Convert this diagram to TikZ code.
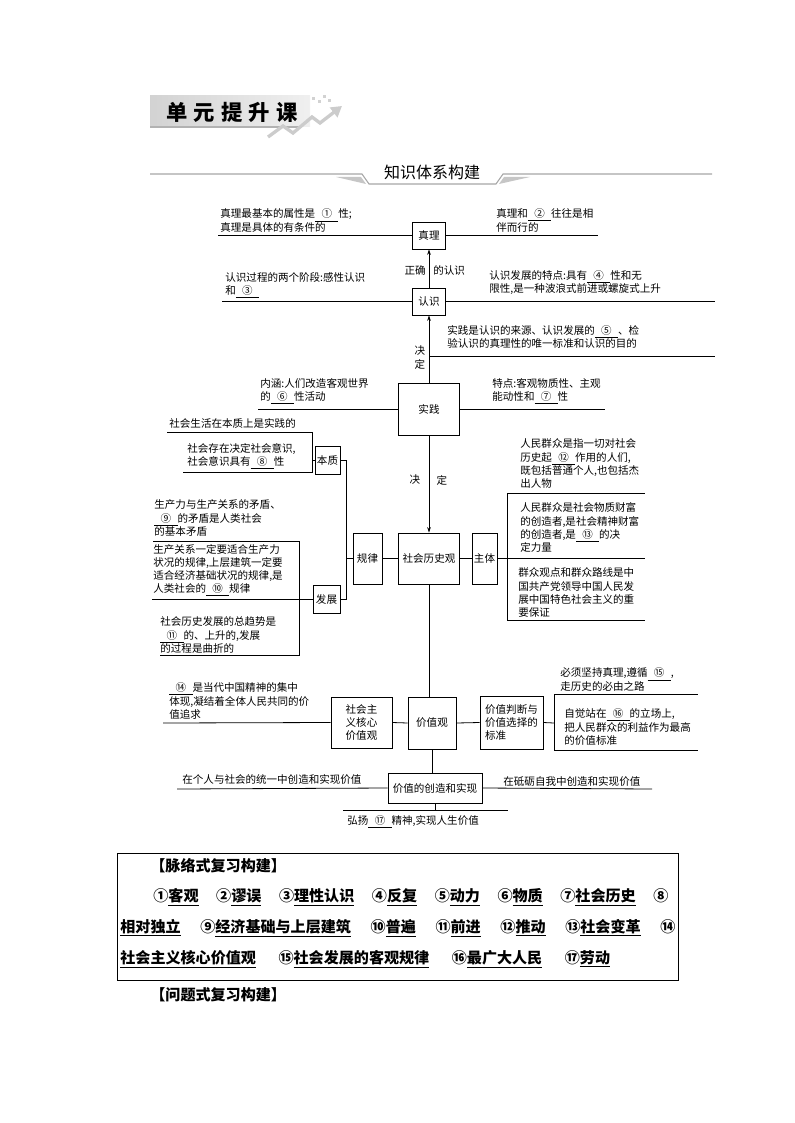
\documentclass[tikz,border=0pt]{standalone}
\usepackage{fontspec}
\setmainfont{Noto Sans CJK SC}
\usetikzlibrary{positioning,arrows.meta,calc}

\newcommand\notesize{\fontsize{7.9}{9.8}\selectfont}
\newcommand\anssize{\fontsize{11.3}{13}\selectfont}
\newcommand\blankno[1]{\underline{\makebox[2.2em]{#1}}}

\begin{document}
\begin{tikzpicture}[
  x=0.75pt, y=-0.75pt,
  >={Stealth[length=4pt,width=2.6pt]},
  line width=0.6pt,
  box/.style={draw, inner sep=1pt, align=center, font=\notesize},
  note/.style={anchor=west, inner sep=0pt, align=left, font=\notesize},
  every node/.style={font=\notesize}
]
\useasboundingbox (0,0) rectangle (794,1123);

% header
\shade[left color=gray!35, right color=gray!12] (150,96) rectangle (310,127);
\draw[gray!60, line width=1.5pt] (150,127) -- (300,127);
\draw[gray!40, line width=2.5pt, -{Triangle[length=8pt,width=9pt]}]
  (268,137) -- (283,126) -- (293,133) -- (312,117) -- (320,123) -- (342,106);
\foreach \dx/\dy in {312/97, 318/100, 323/95, 328/99}
  \fill[gray!35] (\dx,\dy) rectangle ++(3,3);
\node[font=\fontsize{16}{18}\selectfont\bfseries] (unit) at (232,112)
  {单\hspace{4.5pt}元\hspace{4.5pt}提\hspace{4.5pt}升\hspace{4.5pt}课};

\draw[gray!70, line width=0.8pt] (150,174) -- (362,174) -- (369,184) -- (496,184) -- (503,174) -- (712,174);
\fill[gray!45] (336,177) -- (361,177) -- (366,184) -- cycle;
\fill[gray!45] (499,184) -- (504,177) -- (530,177) -- cycle;
\node[font=\fontsize{12}{14}\selectfont] (frame) at (432,172) {知识体系构建};

% main boxes
\node[box, minimum width=24.75pt, minimum height=20.25pt] (zhenli) at (429,235.5) {真理};
\node[box, minimum width=24.75pt, minimum height=20.25pt] (renshi) at (429,301.5) {认识};
\node[box, minimum width=45.75pt, minimum height=39pt] (shijian) at (429,409) {实践};
\node[box, minimum width=45.75pt, minimum height=38.25pt] (lishiguan) at (429,558.5) {社会历史观};
\node[box, minimum width=18.75pt, minimum height=21pt] (benzhi) at (327.5,460) {本质};
\node[box, minimum width=21.75pt, minimum height=38.25pt] (guilv) at (367.5,558.5) {规律};
\node[box, minimum width=20.25pt, minimum height=21pt] (fazhan) at (326.5,599) {发展};
\node[box, minimum width=18.75pt, minimum height=38.25pt] (zhuti) at (484.5,558.5) {主体};
\node[box, minimum width=45.75pt, minimum height=38.25pt] (hexin) at (361.5,722.5) {社会主\\义核心\\价值观};
\node[box, minimum width=36pt, minimum height=39pt] (jiazhiguan) at (432,723) {价值观};
\node[box, minimum width=47.25pt, minimum height=39.75pt, align=left] (biaozhun) at (511.5,722.5) {价值判断与\\价值选择的\\标准};
\node[box, minimum width=70.5pt, minimum height=22.5pt] (chuangzao) at (435,788) {价值的创造和实现};

% free ends
\coordinate (zl-l) at (218,235.5);
\coordinate (zl-r) at (598,235.5);
\coordinate (rs-l) at (222,301.5);
\coordinate (rs-r) at (715,301.5);
\coordinate (jd-r) at (715,356);
\coordinate (sj-l) at (258,409);
\coordinate (sj-r) at (605,409);
\coordinate (bz-r) at (346,460);
\coordinate (zt-r) at (507,558.5);
\coordinate (bzh-r) at (554,723);
\coordinate (hx-l) at (163,723);
\coordinate (cz-l) at (177,789);
\coordinate (cz-r) at (652,789);
\coordinate (cz-b) at (435,810);

% arrows on the spine
\draw[->] (renshi) -- (zhenli);
\draw[->] (shijian) -- (renshi);
\draw[->] (shijian) -- (lishiguan);
\draw (lishiguan.south) -- (lishiguan.south |- jiazhiguan.north);
\draw (jiazhiguan.south) -- (jiazhiguan.south |- chuangzao.north);

\node[anchor=east, inner sep=0pt] (zq) at (426,270) {正确};
\node[anchor=west, inner sep=0pt] (drs) at (433,270) {的认识};
\node[align=center, inner sep=0pt, font=\fontsize{7.9}{10.5}\selectfont] (jd1) at (420,358) {决\\定};
\node[inner sep=0pt] (jd2) at (415,480) {决};
\node[inner sep=0pt] (jd3) at (442,480) {定};

% top side notes
\draw (zl-l) -- (zhenli.west);
\draw (zhenli.east) -- (zl-r);
\draw (rs-l) -- (renshi.west);
\draw (renshi.east) -- (rs-r);
\draw (renshi.south |- jd-r) -- (jd-r);
\draw (sj-l) -- (shijian.west);
\draw (shijian.east) -- (sj-r);
\node[note] (t-zl-l) at (220,220.5) {真理最基本的属性是\blankno{①}性;\\真理是具体的有条件的};
\node[note] (t-zl-r) at (496,220.5) {真理和\blankno{②}往往是相\\伴而行的};
\node[note] (t-rs-l) at (225,285) {认识过程的两个阶段:感性认识\\和\blankno{③}};
\node[note] (t-rs-r) at (489,283) {认识发展的特点:具有\blankno{④}性和无\\限性,是一种波浪式前进或螺旋式上升};
\node[note] (t-sj-up) at (447,337) {实践是认识的来源、认识发展的\blankno{⑤}、检\\验认识的真理性的唯一标准和认识的目的};
\node[note] (t-sj-l) at (260,391.5) {内涵:人们改造客观世界\\的\blankno{⑥}性活动};
\node[note] (t-sj-r) at (492,391.5) {特点:客观物质性、主观\\能动性和\blankno{⑦}性};

% left side
\draw (167,432) -- (312,432) -- (312,472) -- (183,472);
\draw (312,460) -- (benzhi.west);
\draw (benzhi.east) -- (bz-r) |- (fazhan.east);
\draw (bz-r |- guilv.west) -- (guilv.west);
\draw (guilv.east) -- (lishiguan.west);
\draw (153,541) -- (299,541) -- (299,655) -- (160,655);
\draw (152,599) -- (fazhan.west);
\node[note] (t-shsh) at (169,423) {社会生活在本质上是实践的};
\node[note] (t-cz) at (187,456.5) {社会存在决定社会意识,\\社会意识具有\blankno{⑧}性};
\node[note] (t-md) at (154,518) {生产力与生产关系的矛盾、\\\blankno{⑨}的矛盾是人类社会\\的基本矛盾};
\node[note] (t-gl) at (153,570) {生产关系一定要适合生产力\\状况的规律,上层建筑一定要\\适合经济基础状况的规律,是\\人类社会的\blankno{⑩}规律};
\node[note] (t-qs) at (160,635) {社会历史发展的总趋势是\\\blankno{⑪}的、上升的,发展\\的过程是曲折的};

% right side
\draw (lishiguan.east) -- (zhuti.west);
\draw (zhuti.east) -- (645,558.5);
\draw (507,493) -- (507,620);
\draw (507,493) -- (645,493);
\draw (507,620) -- (645,620);
\node[note] (t-qz1) at (520,463.5) {人民群众是指一切对社会\\历史起\blankno{⑫}作用的人们,\\既包括普通个人,也包括杰\\出人物};
\node[note] (t-qz2) at (520,527.5) {人民群众是社会物质财富\\的创造者,是社会精神财富\\的创造者,是\blankno{⑬}的决\\定力量};
\node[note] (t-qz3) at (518,592.5) {群众观点和群众路线是中\\国共产党领导中国人民发\\展中国特色社会主义的重\\要保证};

% value part
\draw (hx-l) -- (hexin.west);
\draw (hexin.east) -- (jiazhiguan.west);
\draw (jiazhiguan.east) -- (biaozhun.west);
\draw (biaozhun.east) -- (bzh-r);
\draw (554,694) -- (554,750);
\draw (554,694) -- (698,694);
\draw (554,750) -- (698,750);
\draw (cz-l) -- (chuangzao.west);
\draw (chuangzao.east) -- (cz-r);
\draw (chuangzao.south) -- (cz-b);
\draw (343,810) -- (508,810);
\node[note] (t-hx) at (169,701) {\blankno{⑭}是当代中国精神的集中\\体现,凝结着全体人民共同的价\\值追求};
\node[note] (t-15) at (560,679.5) {必须坚持真理,遵循\blankno{⑮},\\走历史的必由之路};
\node[note] (t-16) at (564,727) {自觉站在\blankno{⑯}的立场上,\\把人民群众的利益作为最高\\的价值标准};
\node[note] (t-gr) at (182,779) {在个人与社会的统一中创造和实现价值};
\node[note] (t-dl) at (503,781) {在砥砺自我中创造和实现价值};
\node[note] (t-hy) at (347,822) {弘扬\blankno{⑰}精神,实现人生价值};

% answers
\node[draw, line width=0.7pt, anchor=north west, inner sep=0pt,
  minimum width=420.75pt, minimum height=95.25pt] (ansbox) at (117,853) {};
\node[anchor=west, inner sep=0pt, font=\anssize\bfseries] (t-ml) at (150,866) {【脉络式复习构建】};
\node[anchor=west, inner sep=0pt, font=\anssize\bfseries] (row1) at (153,897)
  {\hbox to 386.25pt{①\underline{客观}\hfill ②\underline{谬误}\hfill ③\underline{理性认识}\hfill ④\underline{反复}\hfill ⑤\underline{动力}\hfill ⑥\underline{物质}\hfill ⑦\underline{社会历史}\hfill ⑧}};
\node[anchor=west, inner sep=0pt, font=\anssize\bfseries] (row2) at (120,928)
  {\hbox to 416.25pt{\underline{相对独立}\hfill ⑨\underline{经济基础与上层建筑}\hfill ⑩\underline{普遍}\hfill ⑪\underline{前进}\hfill ⑫\underline{推动}\hfill ⑬\underline{社会变革}\hfill ⑭}};
\node[anchor=west, inner sep=0pt, font=\anssize\bfseries] (row3) at (120,959)
  {\underline{社会主义核心价值观}\hspace{1.5em}⑮\underline{社会发展的客观规律}\hspace{1.5em}⑯\underline{最广大人民}\hspace{1.5em}⑰\underline{劳动}};
\node[anchor=west, inner sep=0pt, font=\anssize\bfseries] (t-wt) at (150,995) {【问题式复习构建】};
\end{tikzpicture}
\end{document}
